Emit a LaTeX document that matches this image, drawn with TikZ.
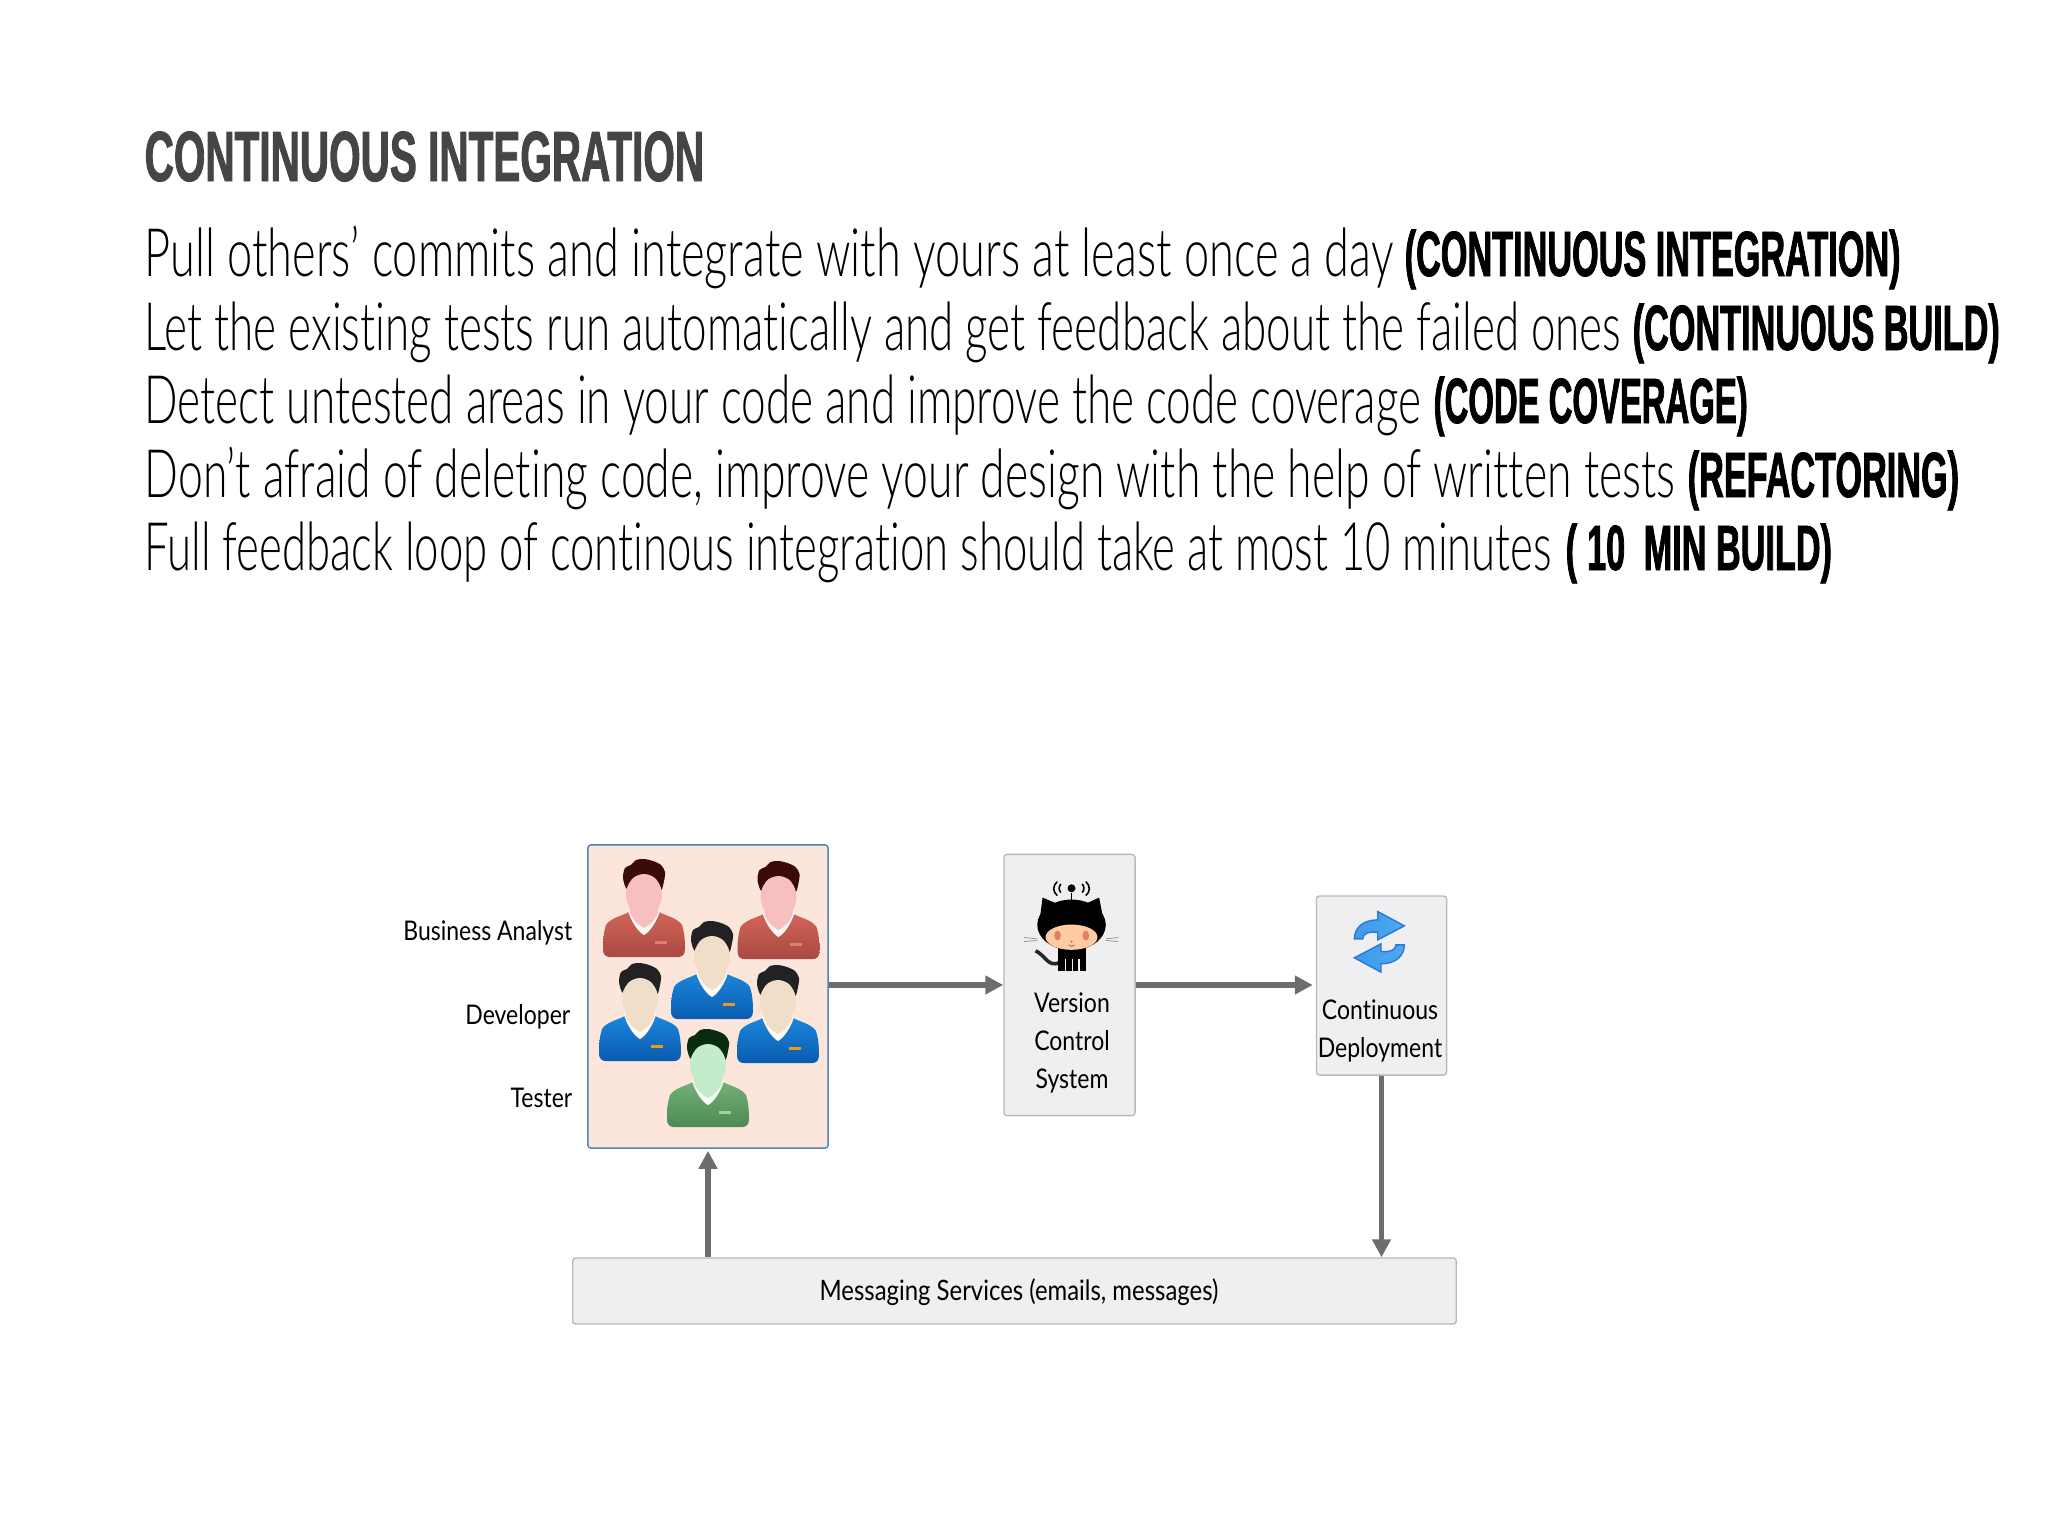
\documentclass[tikz,border=0pt]{standalone}
\usepackage{fontspec}
\usetikzlibrary{arrows.meta}
\newfontfamily\slidelight[FakeStretch=0.66,Ligatures=NoCommon]{Lato Light}
\newfontfamily\slidehead[FakeStretch=0.57,FakeBold=1.2]{Liberation Sans Bold}
\newfontfamily\slidebold[FakeStretch=0.535,FakeBold=1.2]{Liberation Sans Bold}
\newfontfamily\diagfont[FakeStretch=0.85,Ligatures=NoCommon]{Lato}
\definecolor{boxgrey}{HTML}{EFEEF1}
\definecolor{boxline}{HTML}{B9B9BC}
\definecolor{teamfill}{HTML}{FCE6DC}
\definecolor{teamline}{HTML}{4F81BD}
\definecolor{flowgrey}{HTML}{6D6D6F}
\definecolor{syncedge}{HTML}{2A78D0}
\definecolor{syncleft}{HTML}{3C9BEE}
\definecolor{syncmid}{HTML}{BFE2FB}
\definecolor{syncright}{HTML}{4FA8F0}
\definecolor{analysttop}{HTML}{D2655A}
\definecolor{analystbot}{HTML}{A84A40}
\definecolor{analystface}{HTML}{F8BFC0}
\definecolor{analysttag}{HTML}{DD8070}
\definecolor{analysthair}{HTML}{3A0A0A}
\definecolor{devtop}{HTML}{1B86DC}
\definecolor{devbot}{HTML}{0A5CB0}
\definecolor{devface}{HTML}{F1DEC8}
\definecolor{devtag}{HTML}{E89A20}
\definecolor{devhair}{HTML}{222222}
\definecolor{testertop}{HTML}{74B078}
\definecolor{testerbot}{HTML}{4E8A54}
\definecolor{testerface}{HTML}{C5ECCA}
\definecolor{testertag}{HTML}{A0D0A0}
\definecolor{testerhair}{HTML}{0A2A12}
\tikzset{
    pics/person/.style={code={
        \fill[#1hair] plot[smooth cycle] coordinates {(-17,30) (-21,19) (-19,9) (-13,6) (-8,1) (0,0) (9,2) (17,6) (21,13) (20,22) (17,31) (10,18) (-10,18)};
        \shade[top color=#1top, bottom color=#1bot] (-14,52) .. controls (-18,56) and (-33,58) .. (-38,66) .. controls (-40,72) and (-41,80) .. (-41,90) .. controls (-41,96) and (-38,98) .. (-34,98) -- (34,98) .. controls (38,98) and (41,96) .. (41,90) .. controls (41,80) and (40,72) .. (38,66) .. controls (33,58) and (18,56) .. (14,52) -- (0,76) -- cycle;
        \fill[white!85!#1face] (-16,52) .. controls (-13,62) and (-6,73) .. (0,76) .. controls (6,73) and (13,62) .. (16,52) -- cycle;
        \fill[#1face] (-14,45) -- (-14,54) .. controls (-11,61) and (-5,67) .. (0,69) .. controls (5,67) and (11,61) .. (14,54) -- (14,45) -- cycle;
        \fill[#1face] (0,36) ellipse (18 and 21);
        \fill[#1tag] (11,82) rectangle (23,85);
    }}
}
\begin{document}
\begin{tikzpicture}[x=0.01cm,y=-0.01cm,>={Triangle[length=0.18cm,width=0.18cm]},
    heading/.style={anchor=base west,inner sep=0pt,text=black!73,font=\slidehead\fontsize{20.2}{24}\selectfont},
    textline/.style={anchor=base west,inner sep=0pt,transform shape,font=\slidelight\fontsize{19}{22}\selectfont},
    tagline/.style={anchor=base west,inner sep=0pt,transform shape,font=\slidebold\fontsize{18.2}{22}\selectfont},
    greybox/.style={draw=boxline,fill=boxgrey,line width=0.4pt,rounded corners=0.03cm,inner sep=0pt},
    teambox/.style={draw=teamline,fill=teamfill,line width=0.4pt,rounded corners=0.03cm,inner sep=0pt},
    difflabel/.style={inner sep=0pt,font=\diagfont\fontsize{7.7}{10.81}\selectfont,align=center},
    syncarrow/.style={draw=syncedge,line width=0.4pt,left color=syncleft,middle color=syncmid,right color=syncright},
    flow/.style={->,draw=flowgrey,line width=1.6pt}]
    \useasboundingbox (0,0) rectangle (2048,1536);

    \node[heading] (title) at (144,181) {CONTINUOUS INTEGRATION};
    \node[textline,xscale=1.023] (line1) at (144,276) {Pull others’ commits and integrate with yours at least once a day};
    \node[tagline] (tag1) at (1404,276) {(CONTINUOUS INTEGRATION)};
    \node[textline,xscale=0.997] (line2) at (144,350) {Let the existing tests run automatically and get feedback about the failed ones};
    \node[tagline] (tag2) at (1632,350) {(CONTINUOUS BUILD)};
    \node[textline] (line3) at (144,423) {Detect untested areas in your code and improve the code coverage};
    \node[tagline,xscale=0.96] (tag3) at (1433,423) {(CODE COVERAGE)};
    \node[textline,xscale=1.01] (line4) at (144,497) {Don’t afraid of deleting code, improve your design with the help of written tests};
    \node[tagline] (tag4) at (1687,497) {(REFACTORING)};
    \node[textline,xscale=0.991] (line5) at (144,570) {Full feedback loop of continous integration should take at most 10 minutes};
    \node[tagline] (tag5) at (1565,570) {(\kern0.1cm 10\kern0.09cm{} MIN BUILD)};

    \node[teambox,minimum width=2.40cm,minimum height=3.03cm] (team) at (708,996.5) {};
    \node[greybox,minimum width=1.31cm,minimum height=2.61cm] (vcs) at (1069.5,985) {};
    \node[greybox,minimum width=1.30cm,minimum height=1.79cm] (deploy) at (1381.5,985.5) {};
    \node[greybox,minimum width=8.83cm,minimum height=0.66cm] (msg) at (1014.5,1291) {};

    \node[difflabel,anchor=base east] (analyst) at (573,940) {Business Analyst};
    \node[difflabel,anchor=base east] (developer) at (571,1024) {Developer};
    \node[difflabel,anchor=base east] (tester) at (573,1107) {Tester};
    \node[difflabel,anchor=base] (version) at (1072,1012) {Version};
    \node[difflabel,anchor=base] (control) at (1072,1050) {Control};
    \node[difflabel,anchor=base] (system) at (1072,1088) {System};
    \node[difflabel,anchor=base] (continuous) at (1380,1019) {Continuous};
    \node[difflabel,anchor=base] (deployment) at (1380,1057) {Deployment};
    \node[difflabel,anchor=base,font=\diagfont\fontsize{8}{10.81}\selectfont] (services) at (1019,1300) {Messaging Services (emails, messages)};

    \pic at (644,859) {person=analyst};
    \pic at (778.5,861) {person=analyst};
    \pic at (712,921) {person=dev};
    \pic at (640,963) {person=dev};
    \pic at (778,965) {person=dev};
    \pic at (708,1029) {person=tester};

    \begin{scope}[shift={(980,840)},x=0.00333cm,y=-0.00333cm]
        \fill (275,145) circle (12);
        \draw[line width=0.45pt] (232,125) .. controls (218,138) and (218,155) .. (232,167);
        \draw[line width=0.45pt] (243,132) .. controls (236,140) and (236,150) .. (243,158);
        \draw[line width=0.45pt] (318,125) .. controls (332,138) and (332,155) .. (318,167);
        \draw[line width=0.45pt] (307,132) .. controls (314,140) and (314,150) .. (307,158);
        \draw[line width=0.5pt] (275,160) -- (275,195);
        \draw[black!45,line width=0.2pt] (132,293) -- (172,297) (132,305) -- (172,302) (378,297) -- (415,293) (378,302) -- (415,305);
        \fill (188,173) -- (240,195) -- (180,235) -- cycle;
        \fill (358,173) -- (310,195) -- (370,235) -- cycle;
        \fill (275,255) ellipse (103 and 76);
        \draw[black!85,line width=1pt] (240,368) .. controls (205,385) and (195,345) .. (167,333);
        \fill (235,325) rectangle (318,395);
        \draw[boxgrey,line width=0.4pt] (256,358) -- (256,395) (278,358) -- (278,395) (298,358) -- (298,395);
        \fill[orange!25!teamfill] (275,292) ellipse (78 and 38);
        \fill[red!45!brown!70!white] (233,287) ellipse (10 and 15);
        \fill[red!45!brown!70!white] (318,287) ellipse (10 and 15);
        \fill[red!50!brown] (275,305) circle (3);
        \draw[black!60,line width=0.2pt] (266,315) .. controls (270,321) and (280,321) .. (284,315);
    \end{scope}

    \begin{scope}[shift={(980,840)},x=0.00333cm,y=-0.00333cm]
        \shade[syncarrow] (1125,297) .. controls (1125,265) and (1150,240) .. (1195,240) -- (1195,215) -- (1275,258) -- (1195,300) -- (1195,277) .. controls (1170,275) and (1150,280) .. (1150,297) -- cycle;
        \shade[syncarrow,rotate around={180:(1200,306)}] (1125,297) .. controls (1125,265) and (1150,240) .. (1195,240) -- (1195,215) -- (1275,258) -- (1195,300) -- (1195,277) .. controls (1170,275) and (1150,280) .. (1150,297) -- cycle;
    \end{scope}

    \draw[flow] (team.east |- vcs.west) -- (vcs.west);
    \draw[flow,shorten >=0.03cm] (vcs.east) -- (vcs.east -| deploy.west);
    \draw[flow] (deploy.south) -- (deploy.south |- msg.north);
    \draw[flow,shorten >=0.02cm] (team.south |- msg.north) -- (team.south);
\end{tikzpicture}
\end{document}
